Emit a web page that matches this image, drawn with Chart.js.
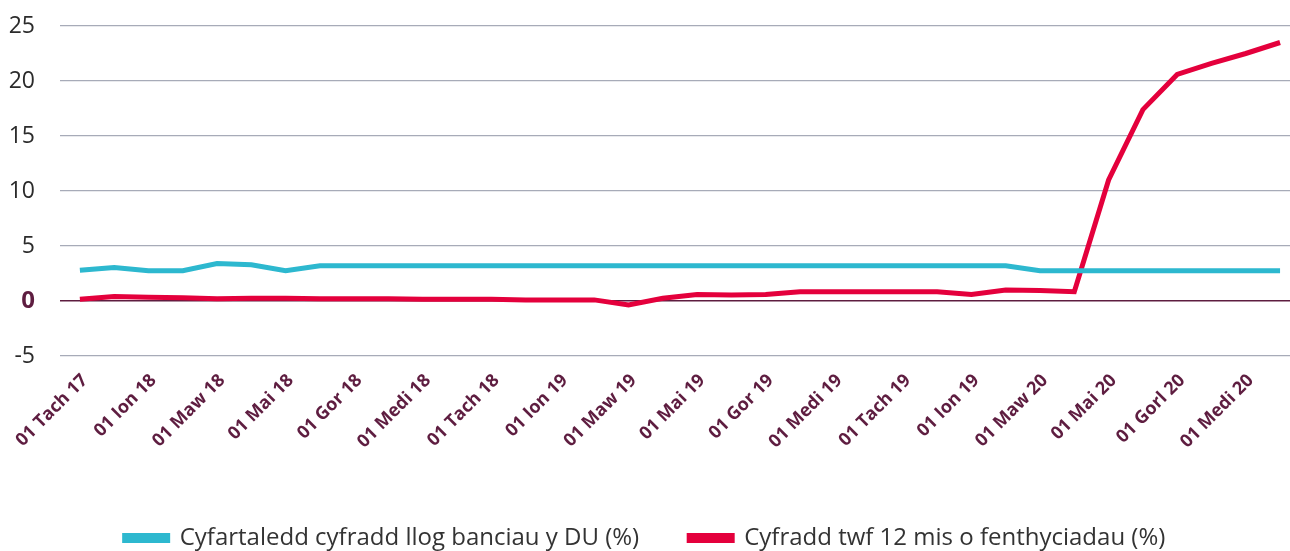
<!DOCTYPE html>
<html>
<head>
<meta charset="utf-8">
<script src="https://cdn.jsdelivr.net/npm/chart.js@4/dist/chart.umd.min.js"></script>
<style>
    html, body { margin: 0; padding: 0; background: #fff; }
    #wrap { width: 1290px; height: 551px; position: relative; }
</style>
</head>
<body>
<div id="wrap"><canvas id="rateChart"></canvas></div>
<script>
// monthly points, Nov 17 to Oct 20
const months = [
    'Tach 17', 'Rhag 17', 'Ion 18', 'Chwef 18', 'Maw 18', 'Ebr 18', 'Mai 18', 'Meh 18',
    'Gor 18', 'Aws 18', 'Medi 18', 'Hyd 18', 'Tach 18', 'Rhag 18', 'Ion 19', 'Chwef 19',
    'Maw 19', 'Ebr 19', 'Mai 19', 'Meh 19', 'Gor 19', 'Aws 19', 'Medi 19', 'Hyd 19',
    'Tach 19', 'Rhag 19', 'Ion 20', 'Chwef 20', 'Maw 20', 'Ebr 20', 'Mai 20', 'Meh 20',
    'Gor 20', 'Aws 20', 'Medi 20', 'Hyd 20'
];

// labels printed under every second month (as written on the original)
const tickLabels = [
    '01 Tach 17', '01 Ion 18', '01 Maw 18', '01 Mai 18', '01 Gor 18', '01 Medi 18',
    '01 Tach 18', '01 Ion 19', '01 Maw 19', '01 Mai 19', '01 Gor 19', '01 Medi 19',
    '01 Tach 19', '01 Ion 19', '01 Maw 20', '01 Mai 20', '01 Gorl 20', '01 Medi 20'
];

const bankRate = [
    2.8, 3.05, 2.75, 2.75, 3.4, 3.3, 2.75, 3.2,
    3.2, 3.2, 3.2, 3.2, 3.2, 3.2, 3.2, 3.2,
    3.2, 3.2, 3.2, 3.2, 3.2, 3.2, 3.2, 3.2,
    3.2, 3.2, 3.2, 3.2, 2.75, 2.75, 2.75, 2.75,
    2.75, 2.75, 2.75, 2.75
];

const lendingGrowth = [
    0.15, 0.4, 0.35, 0.3, 0.2, 0.25, 0.25, 0.2,
    0.2, 0.2, 0.15, 0.15, 0.15, 0.1, 0.1, 0.1,
    -0.35, 0.25, 0.6, 0.55, 0.6, 0.85, 0.85, 0.85,
    0.85, 0.85, 0.6, 1.0, 0.95, 0.85, 11.0, 17.4,
    20.6, 21.6, 22.5, 23.5
];

const yTicks = [-5, 0, 5, 10, 15, 20, 25];

const seriesNames = [
    'Cyfartaledd cyfradd llog banciau y DU (%)',
    'Cyfradd twf 12 mis o fenthyciadau (%)'
];

const purple = '#5e1d40';
const gridGrey = '#a7abb8';
const font = "'Open Sans', 'Lato', sans-serif";

function toPoints(values) {
    return values.map((v, i) => ({ x: i, y: v }));
}

// nudge the legend row a little lower, closer to the bottom edge
const legendNudge = {
    id: 'legendNudge',
    afterLayout(chart) {
        if (chart.legend) {
            chart.legend.top += 9;
            chart.legend.bottom += 9;
        }
    }
};

const ctx = document.getElementById('rateChart').getContext('2d');

new Chart(ctx, {
    type: 'line',
    data: {
        datasets: [
            {
                label: seriesNames[0],
                data: toPoints(bankRate),
                borderColor: '#2db8cf',
                backgroundColor: '#2db8cf',
                borderWidth: 5,
                pointRadius: 0,
                tension: 0
            },
            {
                label: seriesNames[1],
                data: toPoints(lendingGrowth),
                borderColor: '#e4003c',
                backgroundColor: '#e4003c',
                borderWidth: 5,
                pointRadius: 0,
                tension: 0
            }
        ]
    },
    plugins: [legendNudge],
    options: {
        responsive: true,
        maintainAspectRatio: false,
        animation: false,
        layout: {
            padding: { top: 26, left: 0, right: 0, bottom: 0 }
        },
        plugins: {
            tooltip: { enabled: false },
            legend: {
                position: 'bottom',
                labels: {
                    boxWidth: 43,
                    boxHeight: 5,
                    padding: 50,
                    color: '#333',
                    font: { family: font, size: 24 }
                }
            }
        },
        scales: {
            x: {
                type: 'linear',
                min: -0.58,
                max: 35.29,
                grid: { display: false },
                border: { display: false },
                afterFit: scale => { scale.height = 111; },
                ticks: {
                    stepSize: 2,
                    includeBounds: false,
                    autoSkip: false,
                    maxRotation: 45,
                    minRotation: 45,
                    padding: 6,
                    labelOffset: 5,
                    color: purple,
                    font: { family: font, size: 18, weight: 'bold' },
                    callback: value => tickLabels[value / 2]
                }
            },
            y: {
                min: yTicks[0],
                max: yTicks[yTicks.length - 1],
                afterBuildTicks: scale => {
                    scale.ticks = yTicks.map(v => ({ value: v }));
                },
                afterFit: scale => {
                    scale.width = 60;
                    // the big tick padding should not push the plot down
                    scale.paddingTop = 0;
                    scale.paddingBottom = 0;
                },
                border: { display: false },
                grid: {
                    drawTicks: false,
                    color: c => (c.tick && c.tick.value === 0 ? purple : gridGrey),
                    lineWidth: c => (c.tick && c.tick.value === 0 ? 1.5 : 1.2)
                },
                ticks: {
                    padding: 25,
                    color: c => (c.tick && c.tick.value === 0 ? purple : '#2b2b2b'),
                    font: c => (c.tick && c.tick.value === 0
                        ? { family: font, size: 24, weight: 'bold' }
                        : { family: font, size: 23 })
                }
            }
        }
    }
});
</script>
</body>
</html>
